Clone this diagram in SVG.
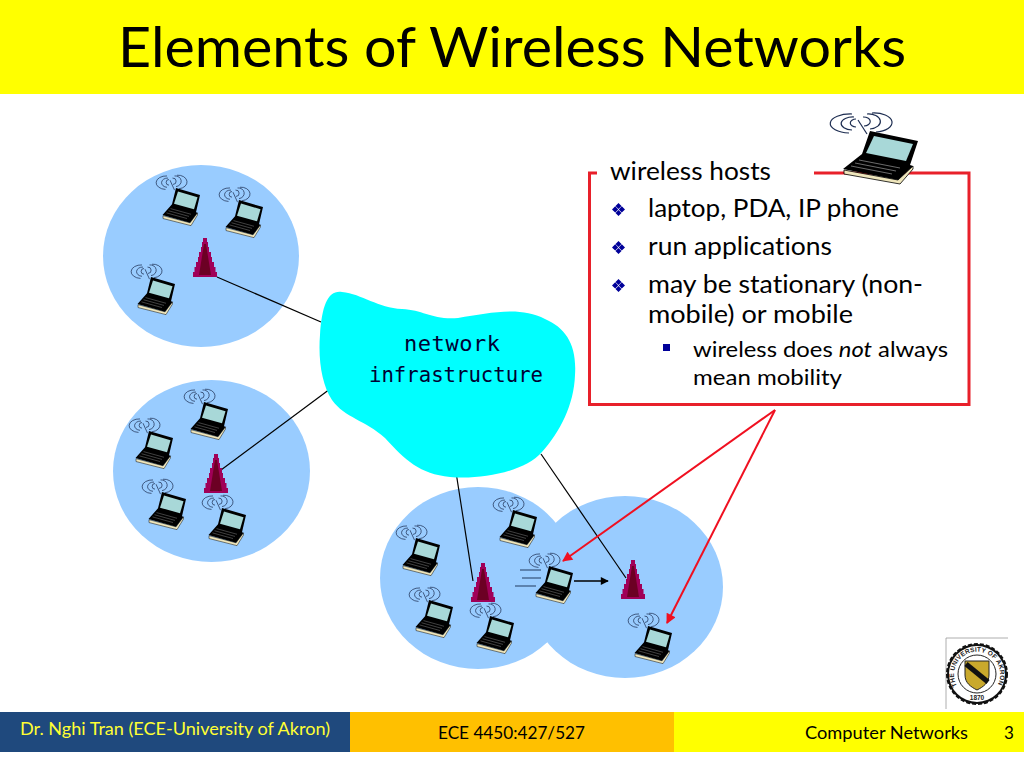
<svg xmlns="http://www.w3.org/2000/svg" width="1024" height="768" viewBox="0 0 1024 768">
<style>
.cell{fill:#99ccff}
.t{font-family:"Lato","Open Sans",sans-serif;fill:#000;font-variant-ligatures:none}
.body{font-size:25px}
.sub{font-size:22px}
.foot{font-size:17px}
.net{font-family:"DejaVu Sans Mono","Liberation Mono",monospace;font-size:22px;fill:#000033}
.link{stroke:#000;stroke-width:1.2;fill:none}
.red{stroke:#f01020;stroke-width:2;fill:none;marker-end:url(#redhead)}
.w{fill:none;stroke:#1c2c50;stroke-width:1.2}
</style>
<defs>
<marker id="redhead" viewBox="0 0 10 10" refX="9" refY="5" markerWidth="11" markerHeight="10" markerUnits="userSpaceOnUse" orient="auto"><path d="M0 0L10 5L0 10z" fill="#f01020"/></marker>
<marker id="blackhead" viewBox="0 0 10 10" refX="9" refY="5" markerWidth="9" markerHeight="8" markerUnits="userSpaceOnUse" orient="auto"><path d="M0 0L10 5L0 10z" fill="#000"/></marker>
<g id="laptop">
<path class="w" d="M36 19A5 3.500 0 1 0 36 27M34 17A10 5.500 0 1 0 32 30M32 14A17 8 0 1 0 29 33"/>
<path class="w" d="M43 17A6 4 0 0 1 44 26M47 14A11 7 0 0 1 50 29M52 13A17 9 0 0 1 56 32"/>
<path d="M38 20L47 34" stroke="#1c2c50" stroke-width="1.2"/>
<path d="M24 70L78 80L93 66V69L80 84L24 74z" fill="#efe6bc" stroke="#000" stroke-width=".8"/>
<path d="M50 31L98 41L90 65L93 66L78 80L23 69L42 54z" fill="#000"/>
<path d="M54 36L93 44L86 61L46 53z" fill="#a8d8d8"/>
<path d="M39 60L80 68M35 63L76 71M31 66L72 74" stroke="#777" stroke-width=".9"/>
</g>
<g id="tower">
<path d="M10 0H14V4H15V9H16V14H18V19H19V24H21V29H22.500V34H24V39H0V34H1.500V29H3V24H5V19H6V14H8V9H9V4H10z" fill="#a00058"/>
<path d="M11 6H13L18 37H6z" fill="#6c0024"/>
</g>
<path id="diamonds" d="M6.500 0L9.500 3L6.500 6L3.500 3zM3.200 3.300L6.200 6.500L3.200 9.500L0 6.500zM9.800 3.300L13 6.500L9.800 9.500L6.800 6.500zM6.500 7L9.500 10L6.500 13L3.500 10z" fill="#000099"/>
<path id="sealarc" d="M957 686A23 23 0 1 1 997 686"/>
</defs>

<rect width="1024" height="768" fill="#fff"/>
<rect id="title-band" width="1024" height="94" fill="#ffff00"/>
<text class="t" x="118" y="67" font-size="56" textLength="788" lengthAdjust="spacingAndGlyphs">Elements of Wireless Networks</text>

<g id="cells">
<ellipse id="cell-1" class="cell" cx="201" cy="256" rx="98" ry="91"/>
<ellipse id="cell-2" class="cell" cx="211.500" cy="471" rx="98.500" ry="91"/>
<ellipse id="cell-3" class="cell" cx="478" cy="578" rx="98" ry="91"/>
<ellipse id="cell-4" class="cell" cx="625" cy="587" rx="98" ry="91"/>
</g>

<g id="connectors">
<path class="link" d="M217 277L321 322"/>
<path class="link" d="M221 470L330 389"/>
<path class="link" d="M456 472L473 581"/>
<path class="link" d="M541 454L626 578"/>
<path d="M574 581H608" stroke="#000" stroke-width="1.600" fill="none" marker-end="url(#blackhead)"/>
<path d="M520 570H541M522 578H541M515 586H536" stroke="#223a60" stroke-width="1.200"/>
<path class="red" d="M775 410L563 561"/>
<path class="red" d="M775 410L667 623"/>
</g>

<g id="cloud">
<path d="M320 335C322 305 328 290 342 292C362 294 378 308 402 309C424 310 432 320 458 318C490 313 520 306 545 319C566 328 577 345 575 375C574 405 560 432 542 452C525 472 480 480 450 477C420 474 405 460 385 438C365 420 345 418 332 400C322 385 318 360 320 335z" fill="#00ffff"/>
<text class="net" x="404" y="351" textLength="96">network</text>
<text class="net" x="369" y="382" textLength="174" lengthAdjust="spacingAndGlyphs">infrastructure</text>
</g>

<g id="towers">
<use id="tower-1" href="#tower" transform="translate(193 238)"/>
<use id="tower-2" href="#tower" transform="translate(204 454)"/>
<use id="tower-3" href="#tower" transform="translate(471 563)"/>
<use id="tower-4" href="#tower" transform="translate(621 560)"/>
</g>

<g id="hosts">
<use id="host-1" href="#laptop" transform="translate(151 166) scale(.5 .71)"/>
<use id="host-2" href="#laptop" transform="translate(214 178) scale(.5 .71)"/>
<use id="host-3" href="#laptop" transform="translate(126 255) scale(.5 .71)"/>
<use id="host-4" href="#laptop" transform="translate(179 380) scale(.5 .71)"/>
<use id="host-5" href="#laptop" transform="translate(124 409) scale(.5 .71)"/>
<use id="host-6" href="#laptop" transform="translate(137 470) scale(.5 .71)"/>
<use id="host-7" href="#laptop" transform="translate(197 486) scale(.5 .71)"/>
<use id="host-8" href="#laptop" transform="translate(391 516) scale(.5 .71)"/>
<use id="host-9" href="#laptop" transform="translate(488 488) scale(.5 .71)"/>
<use id="host-10" href="#laptop" transform="translate(524 544) scale(.5 .71)"/>
<use id="host-11" href="#laptop" transform="translate(404 578) scale(.5 .71)"/>
<use id="host-12" href="#laptop" transform="translate(465 594) scale(.5 .71)"/>
<use id="host-13" href="#laptop" transform="translate(623 604) scale(.5 .71)"/>
</g>

<g id="callout">
<path d="M597 173H589.500V404.500H969V173H814" fill="none" stroke="#e8202a" stroke-width="3"/>
<use id="host-big" href="#laptop" transform="translate(820 100)"/>
<text class="t body" x="610" y="180" textLength="161" lengthAdjust="spacingAndGlyphs">wireless hosts</text>
<use href="#diamonds" x="612" y="203"/>
<text class="t body" x="648" y="217" textLength="251" lengthAdjust="spacingAndGlyphs">laptop, PDA, IP phone</text>
<use href="#diamonds" x="612" y="241"/>
<text class="t body" x="648" y="255" textLength="184" lengthAdjust="spacingAndGlyphs">run applications</text>
<use href="#diamonds" x="612" y="279"/>
<text class="t body" x="648" y="293" textLength="275" lengthAdjust="spacingAndGlyphs">may be stationary (non-</text>
<text class="t body" x="648" y="323" textLength="205" lengthAdjust="spacingAndGlyphs">mobile) or mobile</text>
<rect x="663" y="344" width="7" height="7" fill="#000099"/>
<text class="t sub" x="693" y="357" textLength="255" lengthAdjust="spacingAndGlyphs">wireless does <tspan font-style="italic">not</tspan> always</text>
<text class="t sub" x="693" y="385" textLength="149" lengthAdjust="spacingAndGlyphs">mean mobility</text>
</g>

<g id="seal">
<path d="M946 709V638H1008" fill="none" stroke="#999" stroke-width=".8"/>
<circle cx="977" cy="674" r="30" fill="#111" stroke="#111" stroke-width="2" stroke-dasharray="4 2"/>
<circle cx="977" cy="674" r="28" fill="#fff"/>
<circle cx="977" cy="674" r="19" fill="#fff" stroke="#222" stroke-width="1"/>
<text font-family="Liberation Sans, sans-serif" font-size="6.500" font-weight="bold" fill="#222"><textPath href="#sealarc" textLength="94">THE UNIVERSITY OF AKRON</textPath></text>
<text x="977" y="700" text-anchor="middle" font-family="Liberation Sans, sans-serif" font-size="6.500" font-weight="bold" fill="#222">1870</text>
<path d="M965 661H989V675C989 683 983 687 977 690C971 687 965 683 965 675z" fill="#c9a92c" stroke="#222"/>
<path d="M966 664L988 682" stroke="#111" stroke-width="5"/>
</g>

<g id="footer">
<rect x="0" y="712" width="350" height="40" fill="#1f497d"/>
<rect x="350" y="712" width="324" height="40" fill="#ffc000"/>
<rect x="674" y="712" width="350" height="40" fill="#ffff00"/>
<text class="t foot" x="20" y="735" style="fill:#ffff33" textLength="310" lengthAdjust="spacingAndGlyphs">Dr. Nghi Tran (ECE-University of Akron)</text>
<text class="t foot" x="438" y="739" textLength="147" lengthAdjust="spacingAndGlyphs">ECE 4450:427/527</text>
<text class="t foot" x="805" y="739" textLength="163" lengthAdjust="spacingAndGlyphs">Computer Networks</text>
<text class="t foot" x="1004" y="739">3</text>
</g>
</svg>
